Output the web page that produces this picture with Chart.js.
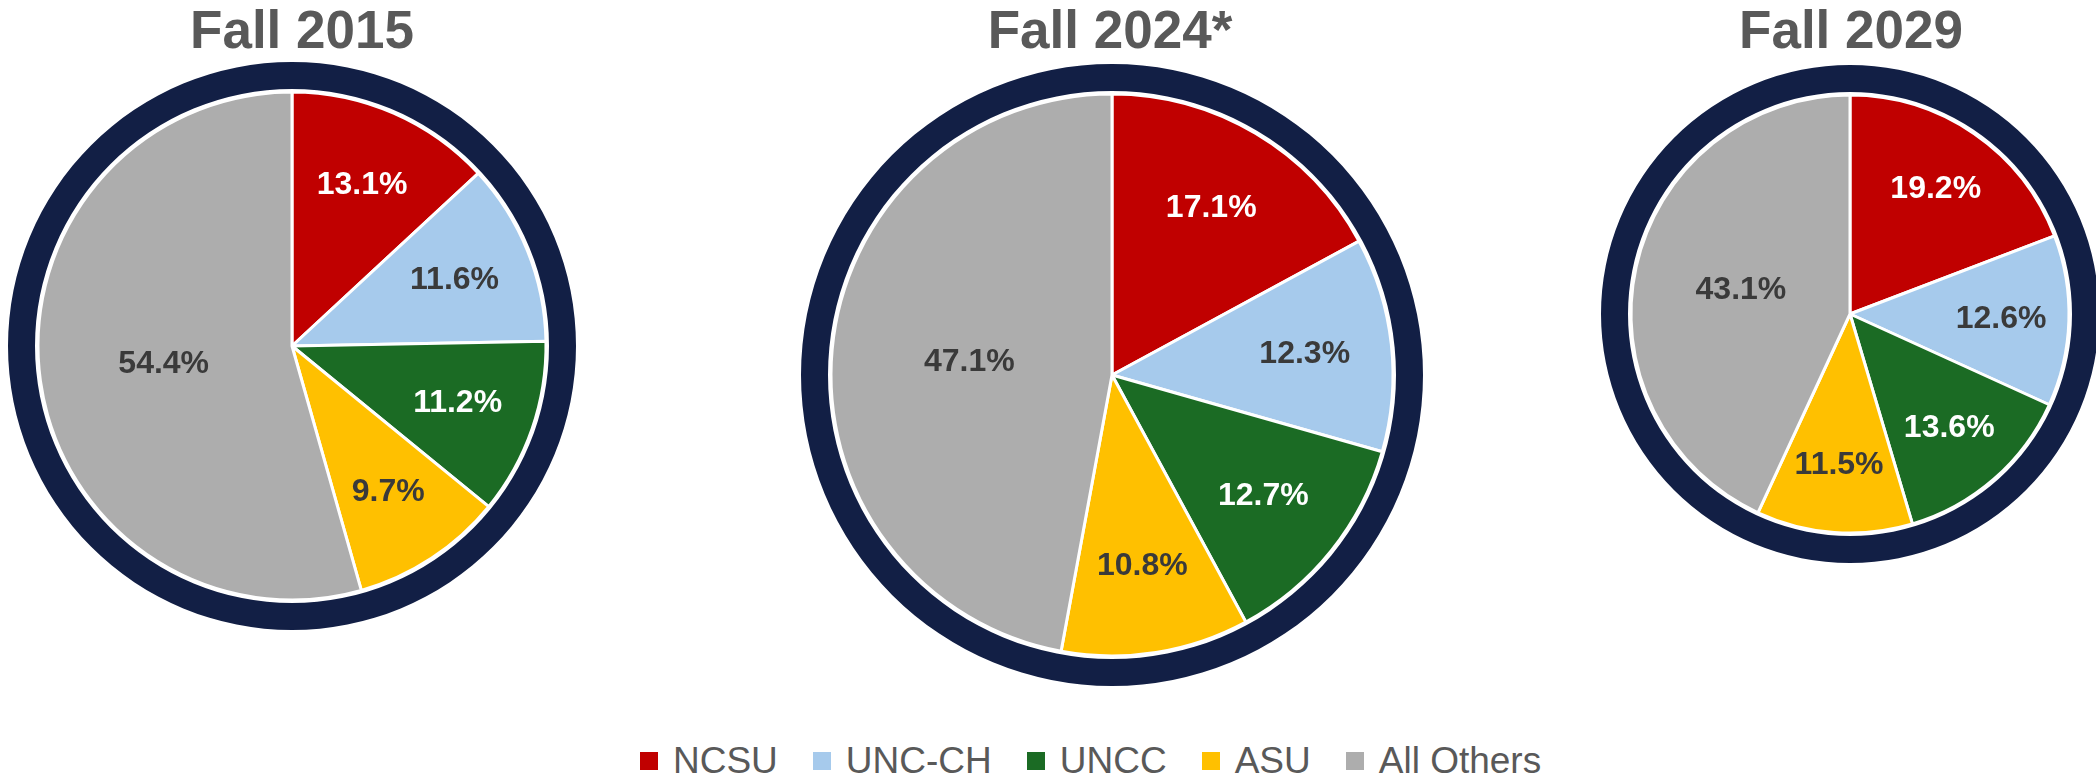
<!DOCTYPE html>
<html>
<head>
<meta charset="utf-8">
<script src="https://cdn.jsdelivr.net/npm/chart.js@4"></script>
<style>
  html, body { margin: 0; padding: 0; background: #ffffff; }
  #stage { position: relative; width: 2096px; height: 778px; overflow: hidden; background: #fff;
           font-family: "Liberation Sans", Arial, sans-serif; }
  .title { position: absolute; top: 3px; width: 400px; text-align: center; font-weight: bold;
           font-size: 53px; line-height: 53px; color: #595959; white-space: nowrap; }
  canvas { position: absolute; }
  #legend { position: absolute; left: 640px; top: 742px; display: flex; align-items: center;
            font-size: 37px; line-height: 37px; color: #595959; white-space: nowrap; }
  .item { display: flex; align-items: center; margin-right: 35px; }
  .sw { width: 18px; height: 18px; margin-right: 15px; }
</style>
</head>
<body>
<div id="stage"></div>
<script>
// ---- data ----
const categories = ['NCSU', 'UNC-CH', 'UNCC', 'ASU', 'All Others'];
const titles = ['Fall 2015', 'Fall 2024*', 'Fall 2029'];
const fall2015 = [13.1, 11.6, 11.2, 9.7, 54.4];
const fall2024 = [17.1, 12.3, 12.7, 10.8, 47.1];
const fall2029 = [19.2, 12.6, 13.6, 11.5, 43.1];

// ---- styles / layout ----
const colors = ['#C00000', '#A6CAEC', '#1B6B24', '#FFC000', '#ADADAD'];
const labelColors = ['#FFFFFF', '#3A3A3A', '#FFFFFF', '#3A3A3A', '#3A3A3A'];
const navy = '#121F45';
const layout = [
  { cx: 292, cy: 346, R: 284, tx: 302 },
  { cx: 1112, cy: 375, R: 311, tx: 1110 },
  { cx: 1850, cy: 314, R: 249, tx: 1851 }
];
const ringNavy = 27;
const ringGap = 3;
const seriesList = [fall2015, fall2024, fall2029];

const stage = document.getElementById('stage');

const labelPlugin = {
  id: 'sliceLabels',
  afterDatasetsDraw(chart) {
    const meta = chart.getDatasetMeta(2);
    const values = chart.data.datasets[2].data;
    const ctx = chart.ctx;
    ctx.save();
    ctx.font = 'bold 32px "Liberation Sans", Arial, sans-serif';
    ctx.textAlign = 'center';
    ctx.textBaseline = 'middle';
    meta.data.forEach((arc, i) => {
      const p = arc.getProps(['x', 'y', 'startAngle', 'endAngle', 'outerRadius'], true);
      const mid = (p.startAngle + p.endAngle) / 2;
      const ratio = values[i] > 40 ? 0.51 : 0.69;
      const px = p.x + Math.cos(mid) * p.outerRadius * ratio;
      const py = p.y + Math.sin(mid) * p.outerRadius * ratio;
      ctx.fillStyle = labelColors[i];
      ctx.fillText(values[i].toFixed(1) + '%', px, py);
    });
    ctx.restore();
  }
};

seriesList.forEach((series, k) => {
  const L = layout[k];
  const t = document.createElement('div');
  t.className = 'title';
  t.textContent = titles[k];
  t.style.left = (L.tx - 200) + 'px';
  stage.appendChild(t);

  const S = 2 * L.R + 20;
  const c = document.createElement('canvas');
  c.width = S; c.height = S;
  c.style.left = (L.cx - S / 2) + 'px';
  c.style.top = (L.cy - S / 2) + 'px';
  stage.appendChild(c);

  new Chart(c, {
    type: 'pie',
    data: {
      labels: categories,
      datasets: [
        { data: [1], backgroundColor: [navy], borderWidth: 0, weight: ringNavy, hoverOffset: 0 },
        { data: [1], backgroundColor: ['#FFFFFF'], borderWidth: 0, weight: ringGap, hoverOffset: 0 },
        { data: series, backgroundColor: colors, borderColor: '#FFFFFF', borderWidth: 3,
          weight: L.R - ringNavy - ringGap, hoverOffset: 0 }
      ]
    },
    options: {
      responsive: false,
      maintainAspectRatio: false,
      animation: false,
      radius: L.R,
      layout: { padding: 0 },
      events: [],
      plugins: { legend: { display: false }, tooltip: { enabled: false } }
    },
    plugins: [labelPlugin]
  });
});

// legend
const lg = document.createElement('div');
lg.id = 'legend';
categories.forEach((name, i) => {
  const it = document.createElement('div');
  it.className = 'item';
  const sw = document.createElement('div');
  sw.className = 'sw';
  sw.style.background = colors[i];
  const tx = document.createElement('span');
  tx.textContent = name;
  it.appendChild(sw); it.appendChild(tx);
  lg.appendChild(it);
});
stage.appendChild(lg);
</script>
</body>
</html>
